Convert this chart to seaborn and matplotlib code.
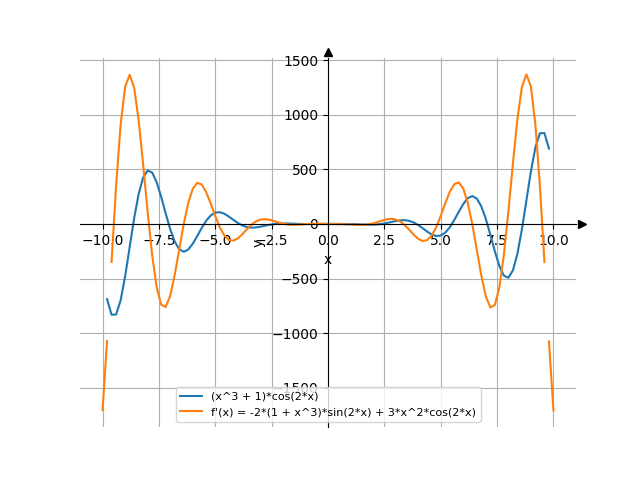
import numpy as np
import pandas as pd
import matplotlib
matplotlib.use("Agg")
import matplotlib.pyplot as plt
import seaborn as sns

# sample positions (x) for each series
x_f = [-9.8, -9.6, -9.4, -9.2, -9.0, -8.8, -8.6, -8.4, -8.2, -8.0,
       -7.8, -7.6, -7.4, -7.2, -7.0, -6.8, -6.6, -6.4, -6.2, -6.0,
       -5.8, -5.6, -5.4, -5.2, -5.0, -4.8, -4.6, -4.4, -4.2, -4.0,
       -3.8, -3.6, -3.4, -3.2, -3.0, -2.8, -2.6, -2.4, -2.2, -2.0,
       -1.8, -1.6, -1.4, -1.2, -1.0, -0.8, -0.6, -0.4, -0.2, 0.0,
       0.2, 0.4, 0.6, 0.8, 1.0, 1.2, 1.4, 1.6, 1.8, 2.0,
       2.2, 2.4, 2.6, 2.8, 3.0, 3.2, 3.4, 3.6, 3.8, 4.0,
       4.2, 4.4, 4.6, 4.8, 5.0, 5.2, 5.4, 5.6, 5.8, 6.0,
       6.2, 6.4, 6.6, 6.8, 7.0, 7.2, 7.4, 7.6, 7.8, 8.0,
       8.2, 8.4, 8.6, 8.8, 9.0, 9.2, 9.4, 9.6, 9.8]
y_f = [-687.6, -830.0, -828.6, -700.4, -480.7, -214.9, 50.0, 272.6, 423.8, 489.4,
       470.8, 382.7, 248.7, 96.7, -46.8, -160.4, -230.9, -254.0, -234.1, -181.4,
       -110.3, -35.4, 30.4, 78.3, 104.0, 107.9, 93.9, 68.3, 38.0, 9.2,
       -13.5, -27.8, -33.3, -31.6, -25.0, -16.3, -7.8, -1.1, 3.0, 4.6,
       4.3, 3.1, 1.6, 0.5, 0.0, 0.0, 0.3, 0.7, 0.9, 1.0,
       0.9, 0.7, 0.4, 0.0, -0.8, -2.0, -3.5, -5.1, -6.1, -5.9,
       -3.6, 1.3, 8.7, 17.8, 26.9, 33.5, 35.0, 29.0, 14.0, -9.5,
       -39.0, -69.9, -95.9, -109.9, -105.7, -79.4, -30.8, 35.9, 111.4, 183.1,
       236.0, 256.0, 232.5, 161.4, 47.0, -97.2, -250.0, -384.4, -472.8, -491.3,
       -425.3, -273.5, -50.1, 215.5, 482.0, 702.2, 830.6, 831.9, 689.1]

x_d = [-10.0, -9.8, -9.6, -9.4, -9.2, -9.0, -8.8, -8.6, -8.4, -8.2, -8.0,
       -7.8, -7.6, -7.4, -7.2, -7.0, -6.8, -6.6, -6.4, -6.2, -6.0,
       -5.8, -5.6, -5.4, -5.2, -5.0, -4.8, -4.6, -4.4, -4.2, -4.0,
       -3.8, -3.6, -3.4, -3.2, -3.0, -2.8, -2.6, -2.4, -2.2, -2.0,
       -1.8, -1.6, -1.4, -1.2, -1.0, -0.8, -0.6, -0.4, -0.2, 0.0,
       0.2, 0.4, 0.6, 0.8, 1.0, 1.2, 1.4, 1.6, 1.8, 2.0,
       2.2, 2.4, 2.6, 2.8, 3.0, 3.2, 3.4, 3.6, 3.8, 4.0,
       4.2, 4.4, 4.6, 4.8, 5.0, 5.2, 5.4, 5.6, 5.8, 6.0,
       6.2, 6.4, 6.6, 6.8, 7.0, 7.2, 7.4, 7.6, 7.8, 8.0,
       8.2, 8.4, 8.6, 8.8, 9.0, 9.2, 9.4, 9.6, 9.8, 10.0]
y_d = [-1701.7, -1071.6, -347.1, 346.9, 904.6, 1253.9, 1364.7, 1248.7, 952.8, 547.1, 110.4,
       -283.5, -577.5, -738.3, -759.3, -657.5, -467.6, -233.9, -1.4, 192.3, 321.9,
       376.8, 361.1, 290.0, 185.6, 72.0, -29.9, -104.8, -145.6, -152.4, -131.6,
       -93.4, -48.8, -7.7, 23.1, 40.5, 44.7, 38.8, 27.1, 13.9, 2.8,
       -4.4, -7.3, -6.7, -4.2, -1.2, 0.9, 1.9, 1.7, 0.9, 0.0,
       -0.7, -1.2, -1.9, -3.1, -4.9, -6.9, -8.0, -7.1, -2.7, 5.8,
       17.7, 31.0, 42.3, 47.2, 41.6, 22.6, -9.7, -52.0, -97.3, -135.6,
       -155.8, -147.9, -105.7, -29.2, 74.2, 188.9, 293.9, 365.0, 380.1, 324.0,
       193.0, -2.3, -236.3, -471.0, -661.4, -763.2, -741.5, -579.4, -283.9, 111.5,
       549.6, 956.4, 1252.7, 1368.5, 1256.9, 906.3, 347.1, -348.5, -1074.3, -1705.3]
# the derivative curve is broken between these sample indices
d_segments = [(0, 2), (2, 99), (99, 101)]

label_f = "(x^3 + 1)*cos(2*x)"
label_d = "f'(x) = -2*(1 + x^3)*sin(2*x) + 3*x^2*cos(2*x)"

fig, ax = plt.subplots(figsize=(6.4, 4.8), dpi=100)

df_f = pd.DataFrame({"x": x_f, "y": y_f})
sns.lineplot(data=df_f, x="x", y="y", ax=ax, color="tab:blue",
             label=label_f, estimator=None, sort=False, linewidth=1.5)
for i, (a, b) in enumerate(d_segments):
    seg = pd.DataFrame({"x": x_d[a:b], "y": y_d[a:b]})
    sns.lineplot(data=seg, x="x", y="y", ax=ax, color="tab:orange",
                 label=label_d if i == 1 else None,
                 estimator=None, sort=False, linewidth=1.5)

ax.set_xlabel("x")
ax.set_ylabel("y")
ax.grid(True)
ax.spines["left"].set_position("zero")
ax.spines["bottom"].set_position("zero")
ax.spines["right"].set_visible(False)
ax.spines["top"].set_visible(False)
ax.xaxis.set_ticks_position("bottom")
ax.yaxis.set_ticks_position("left")

ax.plot(1.0115, 0, ">k", transform=ax.get_yaxis_transform(), clip_on=False)
ax.plot(0, 1.016, "^k", transform=ax.get_xaxis_transform(), clip_on=False)

ax.legend(loc="lower center", fontsize=8)

fig.savefig("out.png", dpi=100)
